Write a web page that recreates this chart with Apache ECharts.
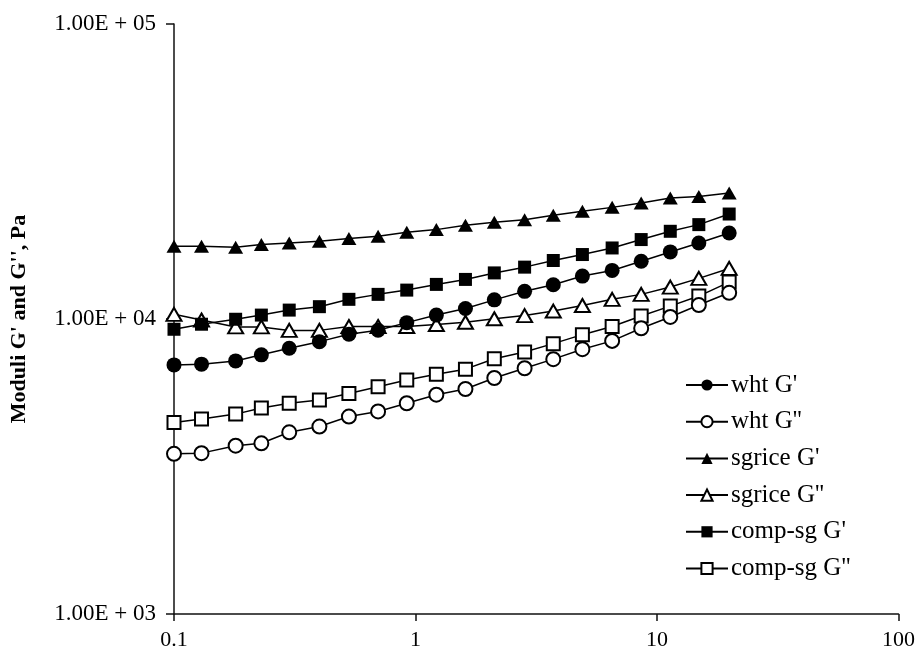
<!DOCTYPE html>
<html>
<head>
<meta charset="utf-8">
<script src="https://cdn.jsdelivr.net/npm/echarts@6/dist/echarts.min.js"></script>
<style>
  html, body { margin: 0; padding: 0; background: #fff; }
  #chart { width: 918px; height: 656px; }
</style>
</head>
<body>
<div id="chart"></div>
<script>
// Frequency sweep, Hz
const freq = [0.1, 0.13, 0.18, 0.23, 0.3, 0.4, 0.53, 0.7, 0.92, 1.22,
              1.61, 2.12, 2.83, 3.72, 4.91, 6.52, 8.6, 11.35, 14.9, 19.9];

// Storage (G') and loss (G'') moduli, Pa
const whtG1 = [6990, 7030, 7210, 7560, 7960, 8380, 8880, 9160, 9720, 10310,
               10850, 11610, 12410, 13070, 13980, 14610, 15700, 16880, 18100, 19570];
const whtG2 = [3490, 3510, 3720, 3790, 4130, 4320, 4670, 4860, 5180, 5540,
               5790, 6310, 6810, 7310, 7900, 8430, 9300, 10160, 11150, 12270];
const sgriceG1 = [17640, 17640, 17510, 17880, 18100, 18340, 18730, 19070, 19670, 20090,
                  20770, 21260, 21710, 22460, 23170, 23900, 24710, 25700, 26040, 26720];
const sgriceG2 = [10370, 9920, 9400, 9400, 9150, 9150, 9430, 9430, 9430, 9580,
                  9750, 10020, 10270, 10640, 11110, 11660, 12120, 12830, 13730, 14840];
const compG1 = [9230, 9600, 9980, 10310, 10720, 11010, 11660, 12120, 12530, 13100,
                13620, 14330, 14990, 15790, 16540, 17410, 18590, 19830, 20890, 22690];
const compG2 = [4460, 4580, 4760, 4990, 5180, 5310, 5590, 5890, 6210, 6500,
                6760, 7330, 7730, 8250, 8850, 9430, 10240, 11060, 11960, 13340];

const seriesNames = ["wht G'", "wht G''", "sgrice G'", "sgrice G''", "comp-sg G'", "comp-sg G''"];
// Tick labels, one per decade
const xTickLabels = ['0.1', '1', '10', '100'];        // 10^-1 .. 10^2
const yTickLabels = ['1.00E + 03', '1.00E + 04', '1.00E + 05']; // 10^3 .. 10^5
const yAxisTitle = "Moduli G' and G'', Pa";

const SERIF = '"Liberation Serif", "Times New Roman", serif';

function pairs(vals) {
  return freq.map((f, i) => [f, vals[i]]);
}

function decadeLabel(labels, firstExp) {
  return function (v) {
    const k = Math.round(Math.log10(v)) - firstExp;
    return labels[k] !== undefined ? labels[k] : '';
  };
}

function makeSeries(name, vals, symbol, size, open) {
  return {
    name: name,
    type: 'line',
    data: pairs(vals),
    symbol: symbol,
    symbolSize: size,
    showAllSymbol: true,
    lineStyle: { color: '#000', width: 1.5 },
    itemStyle: open
      ? { color: '#000', borderColor: '#000', borderWidth: 1.6 }
      : { color: '#000', borderWidth: 0 },
    emphasis: { disabled: true },
    animation: false
  };
}

const chart = echarts.init(document.getElementById('chart'), null, { renderer: 'canvas' });

chart.setOption({
  backgroundColor: '#fff',
  animation: false,
  grid: { left: 170, right: 19, top: 24, bottom: 42, containLabel: false },
  legend: {
    orient: 'vertical',
    left: 680,
    top: 367,
    itemWidth: 42,
    itemHeight: 14,
    itemGap: 10.7,
    data: seriesNames,
    textStyle: { fontFamily: SERIF, fontSize: 25, color: '#000', lineHeight: 26, padding: [0, 0, 0, -2] },
    selectedMode: false
  },
  xAxis: {
    type: 'log',
    logBase: 10,
    min: 0.1,
    max: 100,
    axisLine: { show: true, lineStyle: { color: '#111', width: 1.5 } },
    axisTick: { show: true, inside: false, length: 7, lineStyle: { color: '#111', width: 1.5 } },
    minorTick: { show: false },
    splitLine: { show: false },
    axisLabel: {
      fontFamily: SERIF, fontSize: 22, color: '#000', margin: 15,
      formatter: decadeLabel(xTickLabels, -1)
    }
  },
  yAxis: {
    type: 'log',
    logBase: 10,
    min: 1000,
    max: 100000,
    name: yAxisTitle,
    nameLocation: 'middle',
    nameGap: 144,
    nameRotate: 90,
    nameTextStyle: { fontFamily: SERIF, fontSize: 22, fontWeight: 'bold', color: '#000' },
    axisLine: { show: true, lineStyle: { color: '#111', width: 1.5 } },
    axisTick: { show: true, inside: false, length: 8, lineStyle: { color: '#111', width: 1.5 } },
    minorTick: { show: false },
    splitLine: { show: false },
    axisLabel: {
      fontFamily: SERIF, fontSize: 23, color: '#000', margin: 18,
      formatter: decadeLabel(yTickLabels, 3)
    }
  },
  series: [
    makeSeries(seriesNames[3], sgriceG2, 'emptyTriangle', [15, 13], true),
    makeSeries(seriesNames[5], compG2, 'emptyRect', 13, true),
    makeSeries(seriesNames[1], whtG2, 'emptyCircle', 14, true),
    makeSeries(seriesNames[2], sgriceG1, 'triangle', [15, 13], false),
    makeSeries(seriesNames[4], compG1, 'rect', 13, false),
    makeSeries(seriesNames[0], whtG1, 'circle', 15, false)
  ]
});
</script>
</body>
</html>
